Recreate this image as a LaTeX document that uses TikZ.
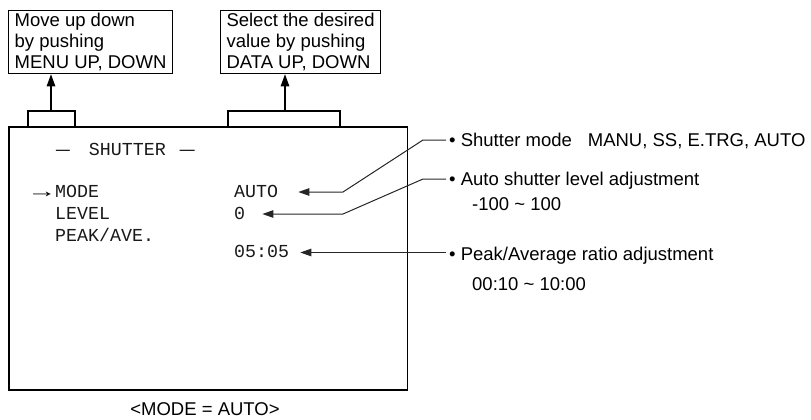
\documentclass[tikz,border=0pt]{standalone}
\usepackage{fontspec}
\setmainfont{Liberation Sans}
\newfontfamily\monof{Liberation Mono}
\usetikzlibrary{arrows.meta,calc}
\begin{document}
\begin{tikzpicture}[x=1pt,y=-1pt,
  sansf/.style={font=\fontsize{18.5}{20.7}\selectfont},
  infobox/.style={sansf,draw,line width=1.1pt,align=left,inner ysep=3pt,inner xsep=0pt,anchor=north west,minimum height=63pt},
  screenbox/.style={draw,line width=1.7pt,anchor=north west,inner sep=0pt},
  monotxt/.style={font=\monof\fontsize{18.3}{22}\selectfont,anchor=base west,inner sep=0pt,text height=10pt,text depth=0pt,text=black!90},
  lbl/.style={sansf,anchor=base west,inner xsep=3pt,inner ysep=0pt,text height=12pt,text depth=0pt},
  lblb/.style={sansf,anchor=base west,inner sep=0pt},
  conn/.style={line width=1.1pt},
  uparrow/.style={line width=1.1pt,-{Triangle[length=12pt,width=8.5pt]}},
  lead/.style={line width=1pt,black!85,-{Triangle[length=11pt,width=7.5pt]}}
]
\useasboundingbox (0,0) rectangle (811,420);

% top info boxes
\node[infobox,minimum width=164pt] (box1) at (8,10) {Move up down\\by pushing\\MENU UP, DOWN};
\node[infobox,minimum width=160pt] (box2) at (220,10) {Select the desired\\value by pushing\\DATA UP, DOWN};

% screen
\node[screenbox,minimum width=398.5pt,minimum height=263pt] (screen) at (8,126) {};

% brackets and arrows
\coordinate (k1a) at (28,126);
\coordinate (k1b) at (75,126);
\coordinate (k1m) at (51,111);
\coordinate (k2a) at (228,126);
\coordinate (k2b) at (340,126);
\coordinate (k2m) at (285,111);
\draw[conn] (k1a |- screen.north) -- (k1a |- k1m) -- (k1b |- k1m) -- (k1b |- screen.north);
\draw[conn] (k2a |- screen.north) -- (k2a |- k2m) -- (k2b |- k2m) -- (k2b |- screen.north);
\draw[uparrow] (k1m) -- (k1m |- box1.south);
\draw[uparrow] (k2m) -- (k2m |- box2.south);

% screen text
\node[monotxt] (title) at (56,155.7) {\scalebox{1.25}[1]{—}\hspace{19pt}SHUTTER\hspace{14pt}\scalebox{1.35}[1]{—}};
\node[sansf,anchor=base east,inner sep=0pt] (cursor) at (57,197) {\scalebox{1.6}[1]{→}};
\node[monotxt] (mode) at (55,197) {MODE};
\node[monotxt] (level) at (55,219) {LEVEL};
\node[monotxt] (peak) at (55,241) {PEAK/AVE.};
\node[monotxt] (auto) at (234,197) {AUTO};
\node[monotxt] (lvl) at (234,219) {0};
\node[monotxt] (ratio) at (234,257.5) {05:05};

% right labels
\node[lbl] (l1) at (446,146) {• Shutter mode\hspace{16pt}MANU, SS, E.TRG, AUTO};
\node[lbl] (l2) at (446,185) {• Auto shutter level adjustment};
\node[lblb] (l2b) at (472,210.5) {-100 \textasciitilde{} 100};
\node[lbl] (l3) at (446,260) {• Peak/Average ratio adjustment};
\node[lblb] (l3b) at (472,290.5) {00:10 \textasciitilde{} 10:00};

% leader lines
\coordinate (b1) at (343,0);
\draw[lead,shorten >=20pt] (l1.west) -- ++(-23,0) -- (b1 |- auto.east) -- (auto.east);
\draw[lead,shorten >=17pt] (l2.west) -- ++(-23,0) -- (b1 |- lvl.east) -- (lvl.east);
\draw[lead,shorten >=11pt] (l3.west |- ratio.east) -- (ratio.east);

% caption
\node[sansf,anchor=base,inner sep=0pt] (cap) at (205,415.5) {<MODE = AUTO>};
\end{tikzpicture}
\end{document}
